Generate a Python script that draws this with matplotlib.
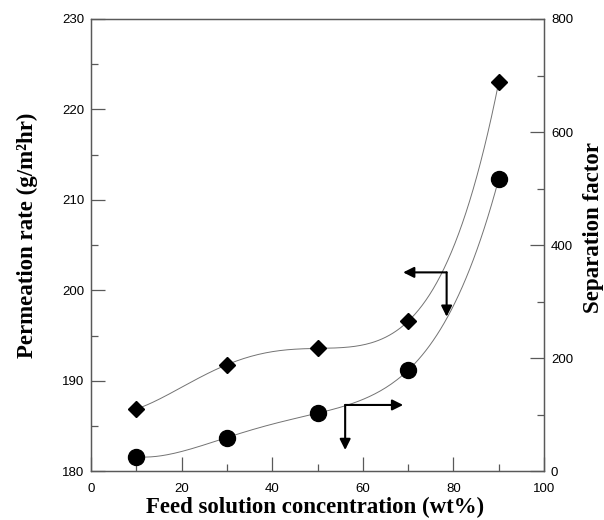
import numpy as np
import matplotlib
matplotlib.use('Agg')
import matplotlib.pyplot as plt
from matplotlib.ticker import MultipleLocator

# Feed concentration (wt%)
conc = [10, 30, 50, 70, 90]
# Permeation rate (g/m2hr), left axis
flux = [186.9, 191.8, 193.6, 196.6, 223.0]
# Separation factor, right axis
sep = [26, 60, 103, 179, 517]

label_font = {'family': 'Liberation Serif', 'weight': 'bold', 'size': 16.5}
tick_font = 'Liberation Sans'
spine_col = '0.35'

fig = plt.figure(figsize=(6.04, 5.2), dpi=100)
ax = fig.add_axes([0.1507, 0.0933, 0.75, 0.8702])
ax2 = ax.twinx()

# smooth trend lines through the points
xs = np.linspace(10, 90, 200)
ax.plot(xs, np.polyval(np.polyfit(conc, flux, 4), xs), color='0.45', lw=0.7, zorder=1)
ax2.plot(xs, np.polyval(np.polyfit(conc, sep, 4), xs), color='0.45', lw=0.7, zorder=1)

ax.plot(conc, flux, linestyle='none', marker='D', ms=8.4, color='black', zorder=3)
ax2.plot(conc, sep, linestyle='none', marker='o', ms=11.5, color='black', zorder=3)

ax.set_xlim(0, 100)
ax.set_ylim(180, 230)
ax2.set_ylim(0, 800)

ax.xaxis.set_major_locator(MultipleLocator(20))
ax.xaxis.set_minor_locator(MultipleLocator(10))
ax.yaxis.set_major_locator(MultipleLocator(10))
ax.yaxis.set_minor_locator(MultipleLocator(5))
ax2.yaxis.set_major_locator(MultipleLocator(200))
ax2.yaxis.set_minor_locator(MultipleLocator(100))

for a in (ax, ax2):
    for s in a.spines.values():
        s.set_color(spine_col)
        s.set_linewidth(0.9)
ax.tick_params(axis='both', which='major', direction='in', length=10, width=0.9,
               color=spine_col, labelsize=9.5, top=False, right=False, pad=5)
ax.tick_params(axis='x', which='major', pad=8)
ax.tick_params(axis='both', which='minor', direction='in', length=5, width=0.9,
               color=spine_col, top=False, right=False)
ax2.tick_params(axis='y', which='major', direction='in', length=10, width=0.9,
                color=spine_col, labelsize=9.5, pad=5)
ax2.tick_params(axis='y', which='minor', direction='in', length=5, width=0.9,
                color=spine_col)
for lab in ax.get_xticklabels() + ax.get_yticklabels() + ax2.get_yticklabels():
    lab.set_fontfamily(tick_font)

# axis titles placed in figure pixels
W, H = 604, 520
fig.text(315.5 / W, 1 - 507 / H, 'Feed solution concentration (wt%)',
         ha='center', va='center', fontdict=label_font)
fig.text(27 / W, 1 - 235 / H, 'Permeation rate (g/m\u00b2hr)',
         ha='center', va='center', rotation=90, fontdict=label_font)
fig.text(593 / W, 1 - 228 / H, 'Separation factor',
         ha='center', va='center', rotation=90, fontdict=label_font)

# arrows pointing to the axis each curve belongs to
arrow = dict(arrowstyle='-|>', color='black', lw=1.5, mutation_scale=16,
             shrinkA=0, shrinkB=0)
ax.annotate('', xy=(68.9, 202.0), xytext=(78.5, 202.0), arrowprops=arrow)
ax.annotate('', xy=(78.5, 197.1), xytext=(78.5, 202.0), arrowprops=arrow)
ax2.annotate('', xy=(68.9, 117.6), xytext=(56.1, 117.6), arrowprops=arrow)
ax2.annotate('', xy=(56.1, 38), xytext=(56.1, 117.6), arrowprops=arrow)

fig.savefig('out.png', dpi=100)
